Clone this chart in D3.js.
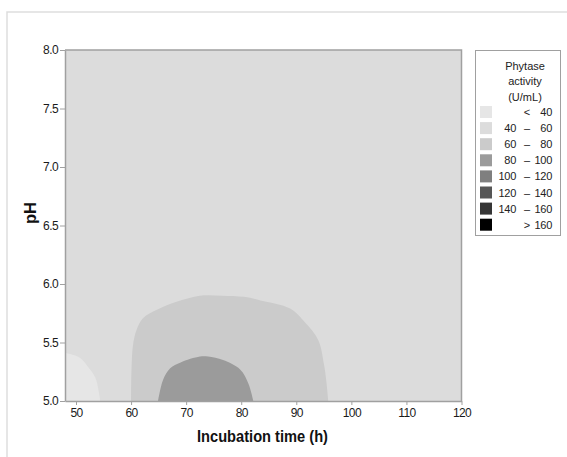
<!DOCTYPE html>
<html><head><meta charset="utf-8">
<script src="https://cdn.jsdelivr.net/npm/d3@7"></script>
<style>body{margin:0;background:#fff;}svg{display:block;font-family:"Liberation Sans",Arial,sans-serif;}</style>
</head><body>
<svg id="c" width="567" height="457"></svg>
<script>
// ---- data ----
const legendLabels = [["", "<", "40"], ["40", "–", "60"], ["60", "–", "80"], ["80", "–", "100"], ["100", "–", "120"], ["120", "–", "140"], ["140", "–", "160"], ["", ">", "160"]];
const levelColors = ["#e6e6e6", "#dcdcdc", "#cbcbcb", "#9b9b9b", "#7f7f7f", "#565656", "#353535", "#000000"];
const xTicks = [50, 60, 70, 80, 90, 100, 110, 120];
const yTicks = [5.0, 5.5, 6.0, 6.5, 7.0, 7.5, 8.0];
const backgroundLevel = 1; // 40–60 everywhere else
// contour boundaries [time (h), pH]
const contour40 = [[48, 5.41], [50.7, 5.37], [52.2, 5.29], [53.5, 5.2], [54.1, 5.09], [54.4, 5.0]];
const contour60 = [[60.0, 5.0], [60.3, 5.46], [61.0, 5.61], [62.2, 5.71], [64.7, 5.78], [68.4, 5.85], [72.5, 5.9], [76.5, 5.9], [80.5, 5.89], [83.5, 5.86], [88.9, 5.79], [91.6, 5.67], [94.0, 5.52], [95.0, 5.32], [95.5, 5.15], [95.8, 5.0]];
const contour80 = [[64.9, 5.0], [65.8, 5.18], [67.1, 5.28], [69.0, 5.33], [72.5, 5.38], [74.0, 5.38], [76.7, 5.35], [79.8, 5.27], [81.3, 5.15], [82.2, 5.0]];

// ---- layout ----
const FONT = "Liberation Sans, Arial, sans-serif";
const svg = d3.select("#c");
const L = 65, R = 461.5, T = 50, B = 401;
const x = d3.scaleLinear().domain([48, 120]).range([L, R]);
const y = d3.scaleLinear().domain([5, 8]).range([B, T]);

// outer frame
svg.append("path").attr("d", `M7,457 V12 H567`).attr("fill", "none").attr("stroke", "#dedede").attr("stroke-width", 1.5);

svg.append("clipPath").attr("id", "clip").append("rect").attr("x", L).attr("y", T).attr("width", R - L).attr("height", B - T);
const g = svg.append("g").attr("clip-path", "url(#clip)");
g.append("rect").attr("x", L).attr("y", T).attr("width", R - L).attr("height", B - T).attr("fill", levelColors[backgroundLevel]);

const line = d3.line().x(d => x(d[0])).y(d => y(d[1])).curve(d3.curveCatmullRom.alpha(0.5));
function region(pts, lvl, closeWithCorner) {
  let d = line(pts);
  if (closeWithCorner) d += `L${x(closeWithCorner[0])},${y(closeWithCorner[1])}`;
  d += "Z";
  g.append("path").attr("d", d).attr("fill", levelColors[lvl]);
}
region(contour40, 0, [48, 5.0]);
region(contour60, 2);
region(contour80, 3);

// axes
const axStroke = "#a0a0a0";
const xa = svg.append("g").attr("transform", `translate(0,${B})`).call(d3.axisBottom(x).tickValues(xTicks).tickSize(4).tickSizeOuter(0).tickFormat(d3.format("d")));
const ya = svg.append("g").attr("transform", `translate(${L},0)`).call(d3.axisLeft(y).tickValues(yTicks).tickSize(5).tickSizeOuter(0).tickFormat(d3.format(".1f")));
[xa, ya].forEach(a => {
  a.select(".domain").attr("stroke", axStroke).attr("stroke-width", 1.5);
  a.selectAll(".tick line").attr("stroke", axStroke);
  a.selectAll(".tick text").attr("fill", "#1a1a1a").attr("font-size", 12).attr("font-family", FONT)
    .attr("transform", null).style("letter-spacing", "-0.6px");
});
xa.selectAll(".tick text").attr("dy", "0.95em").attr("y", 5);
ya.selectAll(".tick text").attr("x", -7);
// right/top border
svg.append("path").attr("d", `M${L},${T}H${R}V${B}`).attr("fill", "none").attr("stroke", axStroke).attr("stroke-width", 1.5);

svg.append("text").attr("x", 197).attr("y", 442).attr("font-weight", "bold").attr("font-size", 16.5).attr("font-family", FONT)
  .attr("textLength", 131).attr("lengthAdjust", "spacingAndGlyphs").attr("fill", "#111").text("Incubation time (h)");
svg.append("text").attr("transform", "translate(36,213) rotate(-90)").attr("text-anchor", "middle").attr("font-weight", "bold").attr("font-size", 16.5).attr("font-family", FONT).attr("fill", "#111").text("pH");

// legend
const lg = svg.append("g").attr("font-family", FONT);
lg.append("rect").attr("x", 475.5).attr("y", 50.5).attr("width", 85).attr("height", 185).attr("fill", "#fff").attr("stroke", "#a0a0a0");
["Phytase", "activity", "(U/mL)"].forEach((t, i) => {
  lg.append("text").attr("x", 525).attr("y", 69.5 + i * 15.5).attr("text-anchor", "middle").attr("font-size", 11).attr("fill", "#222").text(t);
});
legendLabels.forEach((lab, i) => {
  const cy = 112 + i * 16.1;
  lg.append("rect").attr("x", 480).attr("y", cy - 6).attr("width", 12).attr("height", 12).attr("fill", levelColors[i]);
  const ty = cy + 4;
  lg.append("text").attr("x", 516).attr("y", ty).attr("text-anchor", "end").attr("font-size", 11).attr("fill", "#222").style("letter-spacing", "-0.3px").text(lab[0]);
  lg.append("text").attr("x", 527).attr("y", ty).attr("text-anchor", "middle").attr("font-size", 11).attr("fill", "#222").text(lab[1]);
  lg.append("text").attr("x", 552).attr("y", ty).attr("text-anchor", "end").attr("font-size", 11).attr("fill", "#222").style("letter-spacing", "-0.3px").text(lab[2]);
});
</script>
</body></html>
